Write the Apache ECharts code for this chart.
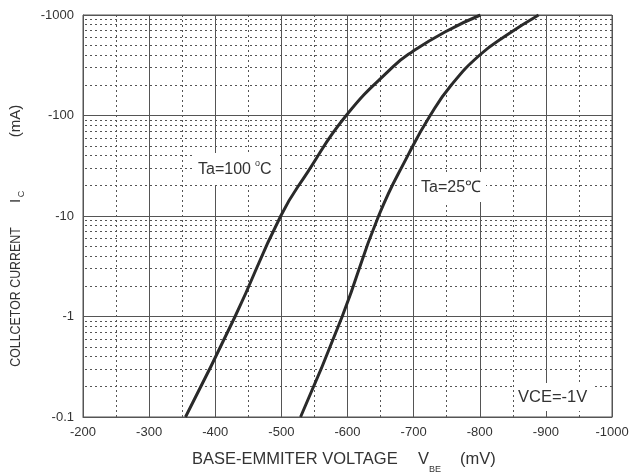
<!DOCTYPE html>
<html>
<head>
<meta charset="utf-8">
<script src="https://cdn.jsdelivr.net/npm/echarts@6/dist/echarts.min.js"></script>
<style>
html,body{margin:0;padding:0;background:#fff;}
#chart{width:632px;height:475px;}
</style>
</head>
<body>
<div id="chart"></div>
<script>
// Base-emitter voltage (mV) and collector current (mA)
const vbe100 = [-355, -430, -499, -540, -598, -669, -698, -748, -801];
const ic100  = [-0.1, -1, -10, -27.5, -100, -306, -431, -682, -1000];
const vbe25  = [-529, -592, -647, -693.5, -725, -757, -800, -841, -889];
const ic25   = [-0.1, -1, -10, -42.7, -100, -201, -400, -632, -1000];
// Y minor grid multipliers per decade and decade starts
const minorMult = [2, 3, 4, 5, 6, 7, 8, 9];
const decades = [0.1, 1, 10, 100];

const FONT = '"Liberation Sans", Arial, sans-serif';
const GRID = '#555';
const INK = '#333';

const chart = echarts.init(document.getElementById('chart'), null, {renderer: 'canvas'});

const minorY = [];
decades.forEach(d => minorMult.forEach(m => minorY.push({yAxis: +(d * m).toPrecision(6)})));

function toPts(xs, ys) { return xs.map((x, i) => [x, -ys[i]]); }

const curveStyle = {color: '#2a2a2a', width: 3};
const mid = {textVerticalAlign: 'middle', verticalAlign: 'middle', fill: INK};

const option = {
  animation: false,
  grid: {left: 83, right: 20, top: 15, bottom: 58, show: true, borderColor: GRID, borderWidth: 1, backgroundColor: '#fff'},
  xAxis: {
    type: 'value', min: -1000, max: -200, interval: 100, inverse: true,
    axisLine: {show: true, lineStyle: {color: GRID}},
    axisTick: {show: false},
    axisLabel: {color: INK, fontSize: 13, fontFamily: FONT, margin: 9, formatter: v => String(v)},
    splitLine: {show: true, lineStyle: {color: GRID, width: 1}},
    minorTick: {show: false, splitNumber: 2},
    minorSplitLine: {show: true, lineStyle: {color: GRID, type: [2, 3], width: 1}}
  },
  yAxis: {
    type: 'log', logBase: 10, min: 0.1, max: 1000,
    axisLine: {show: true, lineStyle: {color: GRID}},
    axisTick: {show: false},
    axisLabel: {color: INK, fontSize: 13, fontFamily: FONT, margin: 9,
      formatter: v => '-' + Number((+v).toPrecision(6))},
    splitLine: {show: true, lineStyle: {color: GRID, width: 1}}
  },
  series: [
    {
      type: 'line', name: 'grid', data: [], silent: true,
      markLine: {silent: true, symbol: ['none', 'none'], label: {show: false},
        lineStyle: {color: GRID, type: [2, 3], width: 1}, data: minorY}
    },
    {type: 'line', name: 'Ta=100', data: toPts(vbe100, ic100), smooth: 0.5,
      showSymbol: false, lineStyle: curveStyle, z: 5},
    {type: 'line', name: 'Ta=25', data: toPts(vbe25, ic25), smooth: 0.5,
      showSymbol: false, lineStyle: curveStyle, z: 5}
  ],
  graphic: [
    // label boxes
    {type: 'rect', shape: {x: 194, y: 153, width: 84, height: 32}, style: {fill: '#fff'}, z: 50},
    {type: 'text', x: 198, y: 170, z: 51, style: Object.assign({text: 'Ta=100', font: '16px ' + FONT}, mid)},
    {type: 'text', x: 255, y: 164, z: 51, style: Object.assign({text: 'o', font: '9px ' + FONT}, mid)},
    {type: 'text', x: 260, y: 170, z: 51, style: Object.assign({text: 'C', font: '16px ' + FONT}, mid)},

    {type: 'rect', shape: {x: 419, y: 172, width: 67, height: 30}, style: {fill: '#fff'}, z: 50},
    {type: 'text', x: 421, y: 188, z: 51, style: Object.assign({text: 'Ta=25\u2103', font: '16px ' + FONT}, mid)},

    {type: 'rect', shape: {x: 514, y: 383, width: 78, height: 28}, style: {fill: '#fff'}, z: 50},
    {type: 'text', x: 518, y: 397, z: 51, style: Object.assign({text: 'VCE=-1V', font: '16.5px ' + FONT}, mid)},

    // x axis name
    {type: 'text', x: 192, y: 459, z: 51, style: Object.assign({text: 'BASE-EMMITER VOLTAGE', font: '16.5px ' + FONT}, mid)},
    {type: 'text', x: 418, y: 459, z: 51, style: Object.assign({text: 'V', font: '16.5px ' + FONT}, mid)},
    {type: 'text', x: 429, y: 470, z: 51, style: Object.assign({text: 'BE', font: '9px ' + FONT}, mid)},
    {type: 'text', x: 460, y: 459, z: 51, style: Object.assign({text: '(mV)', font: '16.5px ' + FONT}, mid)},

    // y axis name (rotated)
    {type: 'text', x: 16, y: 297, rotation: Math.PI / 2, scaleX: 0.8, z: 51, style: Object.assign({text: 'COLLCETOR CURRENT', font: '15.5px ' + FONT, textAlign: 'center', align: 'center'}, mid)},
    {type: 'text', x: 16, y: 201, rotation: Math.PI / 2, z: 51, style: Object.assign({text: 'I', font: '15px ' + FONT, textAlign: 'center', align: 'center'}, mid)},
    {type: 'text', x: 22, y: 194, rotation: Math.PI / 2, z: 51, style: Object.assign({text: 'C', font: '9px ' + FONT, textAlign: 'center', align: 'center'}, mid)},
    {type: 'text', x: 16, y: 121, rotation: Math.PI / 2, z: 51, style: Object.assign({text: '(mA)', font: '15px ' + FONT, textAlign: 'center', align: 'center'}, mid)}
  ]
};
chart.setOption(option);
</script>
</body>
</html>
